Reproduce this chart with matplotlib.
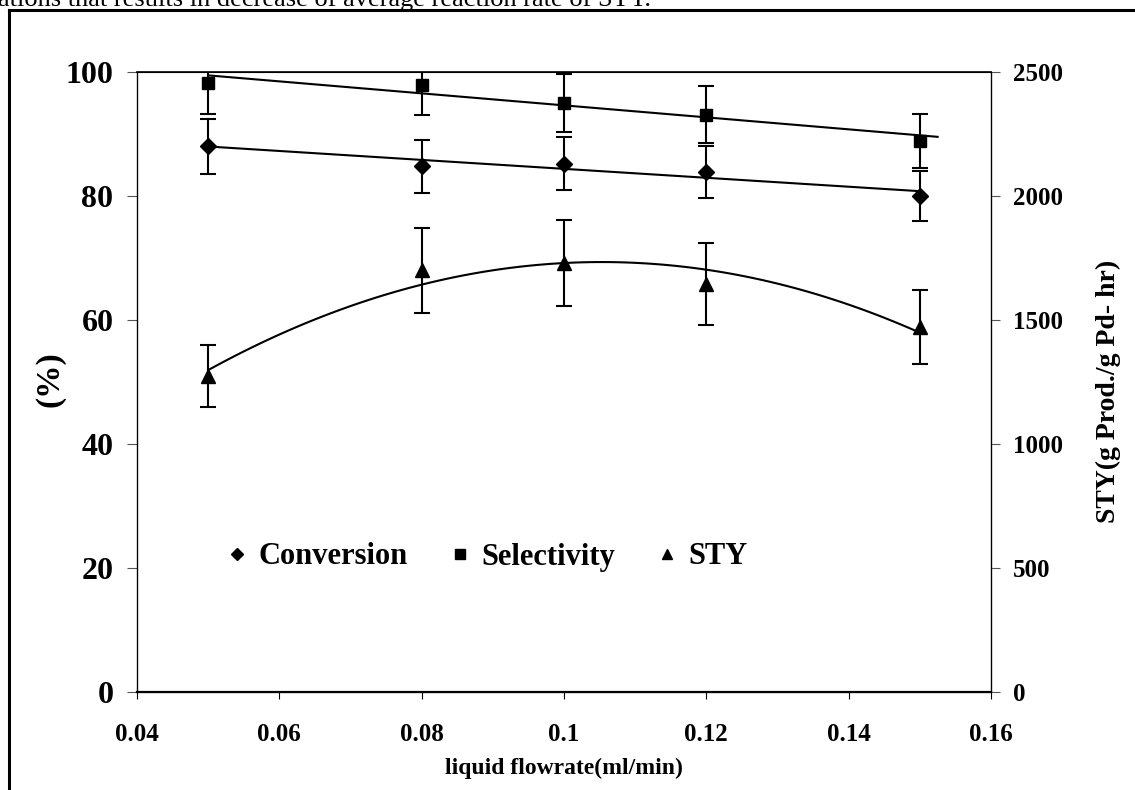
import numpy as np
import matplotlib.pyplot as plt
from matplotlib.lines import Line2D

plt.rcParams['font.family'] = ['Liberation Serif', 'DejaVu Serif']
plt.rcParams['font.weight'] = 'bold'

# data
flowrate = [0.05, 0.08, 0.10, 0.12, 0.15]
conversion = [88.0, 84.8, 85.2, 83.9, 80.0]
conversion_err = [4.4, 4.3, 4.3, 4.2, 4.1]
selectivity = [98.2, 97.9, 95.0, 93.1, 88.9]
selectivity_err = [4.9, 4.9, 4.6, 4.6, 4.4]
sty = [1275, 1700, 1730, 1645, 1472]
sty_err = [125, 170, 172, 165, 150]

x_ticks = [0.04, 0.06, 0.08, 0.10, 0.12, 0.14, 0.16]
x_ticklabels = ['0.04', '0.06', '0.08', '0.1', '0.12', '0.14', '0.16']
left_ticks = [0, 20, 40, 60, 80, 100]
right_ticks = [0, 500, 1000, 1500, 2000, 2500]

fig = plt.figure(figsize=(11.35, 7.9), dpi=100)
ax = fig.add_axes([137 / 1135, 1 - 692 / 790, 854 / 1135, 620 / 790])
ax2 = ax.twinx()

# clipped caption line of the page above the figure
fig.text(-0.002, 1 - 6 / 790, 'ations that results in decrease of average reaction rate of STY.',
         fontsize=19, fontweight='normal', va='baseline', ha='left')

# frame around the figure (left and top edges only are visible)
fig.add_artist(Line2D([9 / 1135, 9 / 1135], [0, 1 - 10 / 790], color='black', lw=2.2,
                      transform=fig.transFigure))
fig.add_artist(Line2D([9 / 1135, 1.0], [1 - 10 / 790, 1 - 10 / 790], color='black', lw=2.2,
                      transform=fig.transFigure))

err_kw = dict(fmt='none', ecolor='black', elinewidth=1.5, capsize=5.5, capthick=1.5)

ax.errorbar(flowrate, conversion, yerr=conversion_err, **err_kw)
ax.errorbar(flowrate, selectivity, yerr=selectivity_err, **err_kw)
ax.plot(flowrate, conversion, linestyle='none', marker='D', color='black', markersize=8.5)
ax.plot(flowrate, selectivity, linestyle='none', marker='s', color='black', markersize=8.5)

# linear trend lines
p = np.polyfit(flowrate, conversion, 1)
xs = np.linspace(flowrate[0], flowrate[-1], 50)
ax.plot(xs, np.polyval(p, xs), color='black', lw=1.5)
p = np.polyfit(flowrate, selectivity, 1)
xs = np.linspace(flowrate[0], flowrate[-1] + 0.0025, 50)
ax.plot(xs, np.polyval(p, xs), color='black', lw=1.5)

ax2.errorbar(flowrate, sty, yerr=sty_err, **err_kw)
ax2.plot(flowrate, sty, linestyle='none', marker='^', color='black', markersize=9.5)
p = np.polyfit(flowrate, sty, 2)
xs = np.linspace(flowrate[0], flowrate[-1], 100)
ax2.plot(xs, np.polyval(p, xs), color='black', lw=1.5)

ax.set_xlim(0.04, 0.16)
ax.set_ylim(0, 100)
ax2.set_ylim(0, 2500)
ax.set_xticks(x_ticks)
ax.set_xticklabels(x_ticklabels)
ax.set_yticks(left_ticks)
ax2.set_yticks(right_ticks)

ax.tick_params(axis='x', direction='out', length=5, width=0.8, pad=17, labelsize=18)
ax.tick_params(axis='y', direction='out', length=7, width=0.8, color='#555555', pad=10, labelsize=23)
ax2.tick_params(axis='y', direction='out', length=6.5, width=0.8, color='#555555', pad=9, labelsize=18)
for lab in ax.get_xticklabels() + ax.get_yticklabels() + ax2.get_yticklabels():
    lab.set_fontweight('bold')

for s in ax.spines.values():
    s.set_linewidth(0.9)
ax.spines['bottom'].set_linewidth(1.6)
ax.spines['top'].set_linewidth(1.2)

ax.set_xlabel('liquid flowrate(ml/min)', fontsize=17, fontweight='bold')
ax.xaxis.set_label_coords(0.5, -0.123)
ax.xaxis.label.set_va('center')
ax.set_ylabel('(%)', fontsize=24, fontweight='bold')
ax.yaxis.set_label_coords(-0.102, 0.505)
ax.yaxis.label.set_va('center')
ax2.set_ylabel('STY(g Prod./g Pd- hr)', fontsize=20, fontweight='bold')
ax2.yaxis.set_label_coords(1.138, 0.485)
ax2.yaxis.label.set_va('center')

handles = [Line2D([], [], linestyle='none', marker='D', color='black', markersize=6),
           Line2D([], [], linestyle='none', marker='s', color='black', markersize=6.5),
           Line2D([], [], linestyle='none', marker='^', color='black', markersize=7)]
fig.legend(handles, ['Conversion', 'Selectivity', 'STY'], loc='center',
           bbox_to_anchor=(488 / 1135, 1 - 557 / 790), ncol=3, frameon=False,
           prop={'size': 22, 'weight': 'bold'}, handlelength=0.6, handletextpad=0.4,
           columnspacing=1.4)

fig.savefig('out.png', dpi=100)
